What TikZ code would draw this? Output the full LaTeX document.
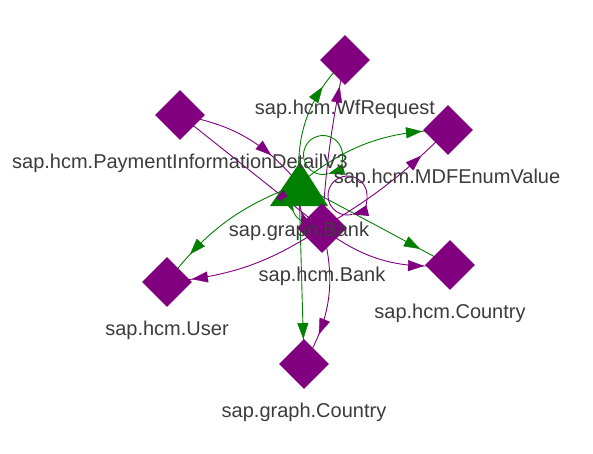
\documentclass[tikz,border=0pt]{standalone}
\usepackage{fontspec}
\setmainfont{Liberation Sans}
\usetikzlibrary{shapes.geometric,arrows.meta,decorations.markings}
\definecolor{gcol}{HTML}{008000}
\definecolor{pcol}{HTML}{800080}
\definecolor{tcol}{HTML}{3C3C3C}
\pgfdeclarelayer{edges}
\pgfdeclarelayer{front}
\pgfsetlayers{edges,main,front}
\tikzset{
  dia/.style={diamond, fill=pcol, draw=none, minimum size=50pt, inner sep=0pt, aspect=1},
  lab/.style={anchor=base, text=tcol, font=\fontsize{20}{24}\selectfont, inner sep=0pt},
  wire/.style={line width=0.9pt},
  tipat/.style={postaction={decorate}, decoration={markings, mark=at position -#1pt with {\arrow{Triangle[length=16pt,width=11pt]}}}},
  loopline/.style={line width=0.9pt, -{Triangle[length=16pt,width=11pt]}},
}
\begin{document}
\begin{tikzpicture}[x=1pt, y=-1pt]
\useasboundingbox (0,0) rectangle (593,453);
% shapes
\coordinate (gb) at (299,184);
\node[dia] (wf) at (345,60) {};
\node[dia] (pid) at (180,115) {};
\node[dia] (mdf) at (448,130) {};
\node[dia] (user) at (167,282) {};
\node[dia] (hc) at (450,265) {};
\node[dia] (gc) at (304,364) {};
\fill[gcol] (gb) ++(1,-22) -- ++(28,44) -- ++(-58,0) -- cycle;
\node[dia] (hb) at (322,228) {};
% labels
\node[lab] (wfl) at (345,114) {sap.hcm.WfRequest};
\node[lab] (pidl) at (180,168) {sap.hcm.PaymentInformationDetailV3};
\node[lab] (mdfl) at (447,183) {sap.hcm.MDFEnumValue};
\node[lab] (gbl) at (299,236) {sap.graph.Bank};
\node[lab] (hbl) at (322,281) {sap.hcm.Bank};
\node[lab] (userl) at (167,335) {sap.hcm.User};
\node[lab] (hcl) at (450,318) {sap.hcm.Country};
\node[lab] (gcl) at (304,417) {sap.graph.Country};
% edges (lines)
\begin{pgfonlayer}{edges}
\fill[white] (0,0) rectangle (593,453);
\foreach \src/\tgt/\bnd/\dst/\col in {
  gb/wf/24/35/gcol, gb/mdf/19/26/gcol, gb/user/-16/36/gcol, gb/hc/0/34/gcol, gb/gc/0/25/gcol,
  pid/gb/20/40/pcol, pid/hb/0/38/pcol, hb/wf/4/27/pcol, hb/mdf/-7/37/pcol, hb/user/14/25/pcol,
  hb/hc/-21/26/pcol, hb/gc/23/33/pcol}{
  \draw[wire, color=\col] (\src.center) to[bend left=\bnd] (\tgt.center);
}
\draw[wire, color=gcol] (gb.center) to[out=240, in=170, looseness=1.5] (hb.center);
\draw[wire, color=pcol] (hb.center) to[out=170, in=270, looseness=1.2] (gb.center);
\draw[loopline, color=gcol] (gb) ++(24,-29) ++(286:19.5pt) arc[start angle=286, end angle=-74, radius=19.5pt];
\draw[loopline, color=pcol] (hb.center) ++(25.5,-32.5) ++(284:19.5pt) arc[start angle=284, end angle=-76, radius=19.5pt];
\end{pgfonlayer}
% arrow heads
\begin{pgfonlayer}{front}
\foreach \src/\tgt/\bnd/\dst/\col in {
  gb/wf/24/35/gcol, gb/mdf/19/26/gcol, gb/user/-16/36/gcol, gb/hc/0/34/gcol, gb/gc/0/25/gcol,
  pid/gb/20/40/pcol, pid/hb/0/38/pcol, hb/wf/4/27/pcol, hb/mdf/-7/37/pcol, hb/user/14/25/pcol,
  hb/hc/-21/26/pcol, hb/gc/23/33/pcol}{
  \path[color=\col, tipat=\dst] (\src.center) to[bend left=\bnd] (\tgt.center);
}
\path[color=gcol, tipat=34] (gb.center) to[out=240, in=170, looseness=1.5] (hb.center);
\path[color=pcol, tipat=28] (hb.center) to[out=170, in=270, looseness=1.2] (gb.center);
\end{pgfonlayer}
\end{tikzpicture}
\end{document}
